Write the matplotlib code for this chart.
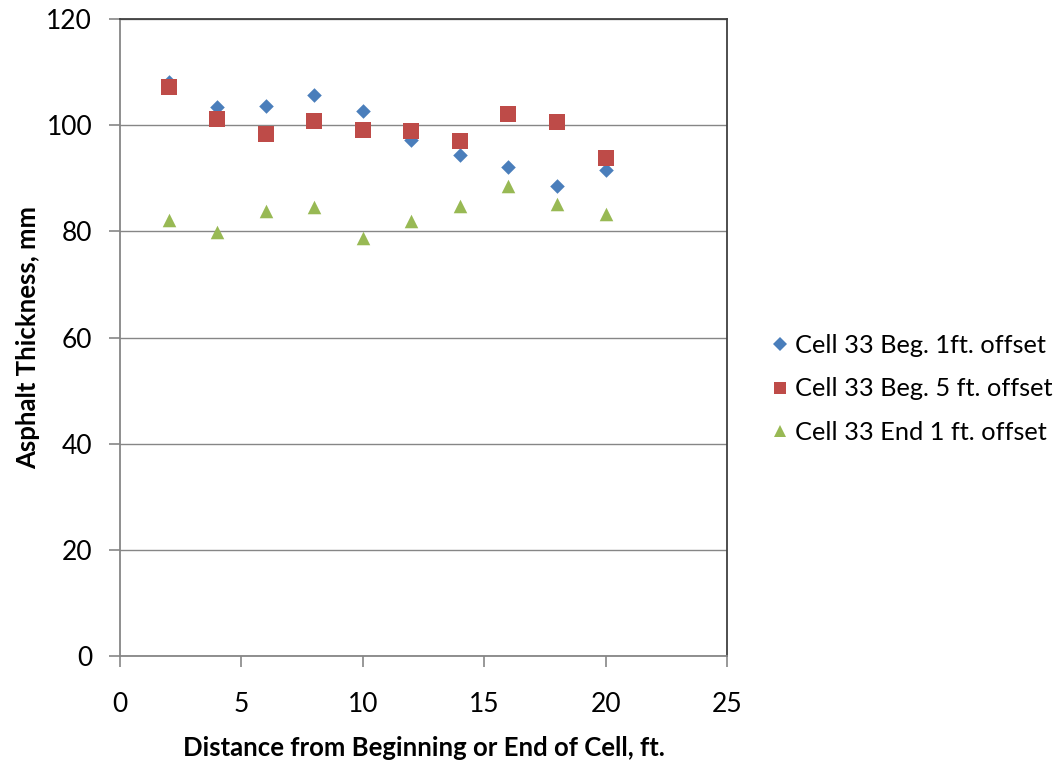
import matplotlib
matplotlib.use("Agg")
import matplotlib.pyplot as plt
from matplotlib.lines import Line2D

distance = [2, 4, 6, 8, 10, 12, 14, 16, 18, 20]
beg_1ft = [108.2, 103.5, 103.7, 105.6, 102.6, 97.2, 94.4, 92.1, 88.5, 91.6]
beg_5ft = [107.1, 101.2, 98.3, 100.8, 99.0, 98.9, 97.1, 102.1, 100.6, 93.8]
end_1ft = [82.1, 79.8, 83.9, 84.5, 78.7, 82.0, 84.8, 88.5, 85.2, 83.3]
labels = ["Cell 33 Beg. 1ft. offset", "Cell 33 Beg. 5 ft. offset", "Cell 33 End 1 ft. offset"]
colors = ['#4A7EBB', '#BE4B48', '#98B954']
x_ticks = [0, 5, 10, 15, 20, 25]
y_ticks = [0, 20, 40, 60, 80, 100, 120]

plt.rcParams['font.family'] = ['Lato', 'DejaVu Sans']

fig = plt.figure(figsize=(10.62, 7.64), dpi=100)
ax = fig.add_axes([120/1062, 1-656/764, (727-120)/1062, (656-19)/764])

ax.scatter(distance, beg_1ft, marker='D', s=55, color=colors[0], zorder=3, linewidths=0)
ax.scatter(distance, beg_5ft, marker='s', s=120, color=colors[1], zorder=3, linewidths=0)
ax.scatter(distance, end_1ft, marker='^', s=95, color=colors[2], zorder=3, linewidths=0)

ax.set_xlim(0, 25)
ax.set_ylim(0, 120)
ax.set_xticks(x_ticks)
ax.set_yticks(y_ticks)
ax.yaxis.grid(True, color='#868686', linewidth=1.0)
ax.set_axisbelow(True)
for s in ['top', 'right']:
    ax.spines[s].set_color('#404040')
    ax.spines[s].set_linewidth(1.3)
for s in ['left', 'bottom']:
    ax.spines[s].set_color('#868686')
    ax.spines[s].set_linewidth(1.3)
ax.tick_params(axis='both', direction='out', length=8, width=1.2, color='#868686', labelsize=19)
ax.tick_params(axis='x', pad=18)
ax.tick_params(axis='y', pad=12)

ax.set_xlabel("Distance from Beginning or End of Cell, ft.", fontsize=18.5, fontweight='bold')
ax.set_ylabel("Asphalt Thickness, mm", fontsize=18.5, fontweight='bold')
ax.xaxis.set_label_coords(0.5, -(736-656)/637, transform=ax.transAxes)
ax.yaxis.set_label_coords(-(120-40)/607, 0.5, transform=ax.transAxes)

handles = [
    Line2D([], [], marker='D', linestyle='none', markersize=7, color=colors[0], markeredgewidth=0),
    Line2D([], [], marker='s', linestyle='none', markersize=9, color=colors[1], markeredgewidth=0),
    Line2D([], [], marker='^', linestyle='none', markersize=9, color=colors[2], markeredgewidth=0),
]
fig.legend(handles, labels, loc='center left', bbox_to_anchor=(770/1062, 1-389/764), frameon=False,
           fontsize=18.3, handletextpad=0.2, labelspacing=0.8, borderaxespad=0,
           handlelength=0.8, borderpad=0)

fig.savefig("out.png", dpi=100)
